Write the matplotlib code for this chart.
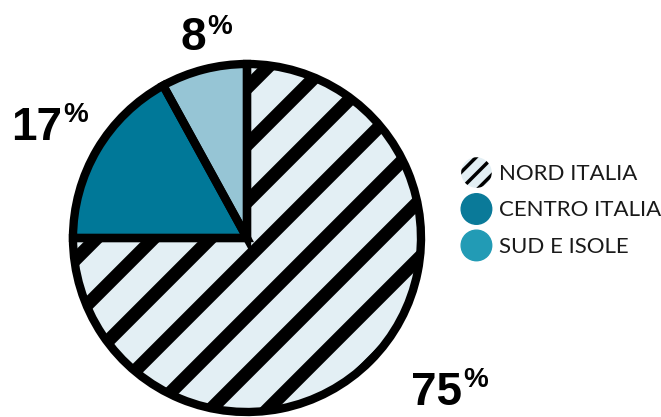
import matplotlib
matplotlib.use("Agg")
import matplotlib.pyplot as plt
import numpy as np
from matplotlib.patches import Circle, Patch
from matplotlib.legend_handler import HandlerPatch

labels = ["NORD ITALIA", "CENTRO ITALIA", "SUD E ISOLE"]
shares = [75, 17, 8]
pct_labels = ["75", "17", "8"]
slice_colors = ["#e3eff4", "#007898", "#96c5d5"]
legend_colors = ["#e3eff4", "#0a7a99", "#229bb5"]

W, H = 661, 417


def px(x, y):
    return x / W, 1 - y / H


plt.rcParams["hatch.linewidth"] = 2.5

fig = plt.figure(figsize=(W / 100, H / 100), dpi=100)

# pie centre (247, 238) px, radius 174 px
cx, cy, r = 247, 238, 174
half = 180
ax = fig.add_axes([(cx - half) / W, (H - cy - half) / H, 2 * half / W, 2 * half / H])

wedges, _ = ax.pie(shares, colors=slice_colors, startangle=90, counterclock=False,
                   radius=1, wedgeprops=dict(linewidth=0))

# thick diagonal stripes on the big slice
period = 57 / r
xs = np.array([-1.2, 1.2])
for k in range(-6, 7):
    c = 0.207 + k * period
    line, = ax.plot(xs, xs + c, color="black", linewidth=9.5, solid_capstyle="butt")
    line.set_clip_path(wedges[0])

# outlines on top
ax.pie(shares, colors=["none"] * 3, startangle=90, counterclock=False, radius=1,
       wedgeprops=dict(linewidth=6, edgecolor="black", fill=False))

lim = half / r
ax.set_xlim(-lim, lim)
ax.set_ylim(-lim, lim)
ax.set_aspect("equal")
ax.axis("off")

# percentage labels
num_font = dict(family=["Liberation Sans", "DejaVu Sans"], weight="bold")
label_pos = [(462, 405, 463, 367), (62, 140, 63, 102), (206, 50, 207, 14)]
for txt, (nx, ny, sx, sy) in zip(pct_labels, label_pos):
    fig.text(*px(nx, ny), txt, ha="right", va="baseline", fontsize=33, **num_font)
    fig.text(*px(sx, sy), "%", ha="left", va="top", fontsize=20, **num_font)


class HandlerCircle(HandlerPatch):
    def create_artists(self, legend, orig_handle, xdescent, ydescent, width, height,
                       fontsize, trans):
        rad = 11
        p = Circle((width / 2 - xdescent, height / 2 - ydescent), rad)
        self.update_prop(p, orig_handle, legend)
        p.set_transform(trans)
        return [p]


handles = []
for i, (lab, col) in enumerate(zip(labels, legend_colors)):
    if i == 0:
        handles.append(Patch(facecolor=col, edgecolor="black", linewidth=0,
                             hatch="//", label=lab))
    else:
        handles.append(Patch(facecolor=col, edgecolor=col, label=lab))

leg = fig.legend(handles=handles, handler_map={Patch: HandlerCircle()},
                 loc="center left", bbox_to_anchor=px(462, 209), frameon=False,
                 prop=dict(family=["Lato", "DejaVu Sans"], weight="normal", size=16),
                 handlelength=1.3, handleheight=1.3, handletextpad=0.35,
                 labelspacing=0.55, borderpad=0, borderaxespad=0)
for t in leg.get_texts():
    t.set_color("#1a1a1a")

fig.savefig("out.png", dpi=100)
